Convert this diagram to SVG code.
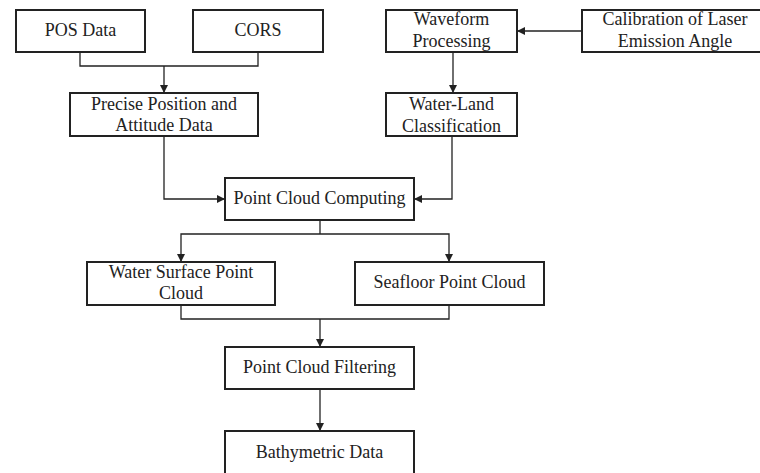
<svg xmlns="http://www.w3.org/2000/svg" width="760" height="473" viewBox="0 0 760 473">
  <style>
    .box { fill: #ffffff; stroke: #222222; stroke-width: 2; }
    .lbl { font-size: 18px; fill: #222222; text-anchor: middle; }
    .wire { fill: none; stroke: #222222; stroke-width: 1.3; }
  </style>
  <defs>
    <marker id="arrow" viewBox="0 0 10 10" refX="10" refY="5" markerWidth="8" markerHeight="8" markerUnits="userSpaceOnUse" orient="auto">
      <path d="M0,0 L10,5 L0,10 Z" fill="#222222"/>
    </marker>
  </defs>
  <rect width="760" height="473" fill="#ffffff"/>

  <!-- connectors -->
  <g id="connectors">
    <path class="wire" d="M80,52 V66 H258 V52"/>
    <path class="wire" d="M164,66 V93" marker-end="url(#arrow)"/>
    <path class="wire" d="M582,31 H517" marker-end="url(#arrow)"/>
    <path class="wire" d="M453,52 V93" marker-end="url(#arrow)"/>
    <path class="wire" d="M164,136 V199 H225" marker-end="url(#arrow)"/>
    <path class="wire" d="M452,136 V199 H414" marker-end="url(#arrow)"/>
    <path class="wire" d="M320,220 V234"/>
    <path class="wire" d="M320,234 H181 V262" marker-end="url(#arrow)"/>
    <path class="wire" d="M320,234 H449 V262" marker-end="url(#arrow)"/>
    <path class="wire" d="M181,305 V319 H449 V305"/>
    <path class="wire" d="M320,319 V347" marker-end="url(#arrow)"/>
    <path class="wire" d="M320,389 V431" marker-end="url(#arrow)"/>
  </g>

  <g font-family="Liberation Serif, Times New Roman, serif">
    <g id="pos-data">
      <rect class="box" x="16" y="10" width="129" height="42"/>
      <text class="lbl" x="80.5" y="36">POS Data</text>
    </g>
    <g id="cors">
      <rect class="box" x="193" y="10" width="130" height="42"/>
      <text class="lbl" x="258" y="36">CORS</text>
    </g>
    <g id="waveform-processing">
      <rect class="box" x="386" y="10" width="131" height="42"/>
      <text class="lbl" x="451.5" y="25">Waveform</text>
      <text class="lbl" x="451.5" y="47">Processing</text>
    </g>
    <g id="calibration">
      <rect class="box" x="582" y="10" width="186" height="42"/>
      <text class="lbl" x="675" y="25">Calibration of Laser</text>
      <text class="lbl" x="675" y="47">Emission Angle</text>
    </g>
    <g id="precise-position">
      <rect class="box" x="70" y="93" width="188" height="43"/>
      <text class="lbl" x="164" y="110">Precise Position and</text>
      <text class="lbl" x="164" y="131">Attitude Data</text>
    </g>
    <g id="water-land">
      <rect class="box" x="386" y="93" width="131" height="43"/>
      <text class="lbl" x="451.5" y="110">Water-Land</text>
      <text class="lbl" x="451.5" y="132">Classification</text>
    </g>
    <g id="point-cloud-computing">
      <rect class="box" x="225" y="178" width="189" height="42"/>
      <text class="lbl" x="319.5" y="204">Point Cloud Computing</text>
    </g>
    <g id="water-surface">
      <rect class="box" x="87" y="262" width="188" height="43"/>
      <text class="lbl" x="181" y="278">Water Surface Point</text>
      <text class="lbl" x="181" y="299">Cloud</text>
    </g>
    <g id="seafloor">
      <rect class="box" x="355" y="262" width="189" height="43"/>
      <text class="lbl" x="449.5" y="288">Seafloor Point Cloud</text>
    </g>
    <g id="filtering">
      <rect class="box" x="225" y="347" width="189" height="42"/>
      <text class="lbl" x="319.5" y="373">Point Cloud Filtering</text>
    </g>
    <g id="bathymetric">
      <rect class="box" x="225" y="431" width="189" height="45"/>
      <text class="lbl" x="319.5" y="458">Bathymetric Data</text>
    </g>
  </g>
</svg>
